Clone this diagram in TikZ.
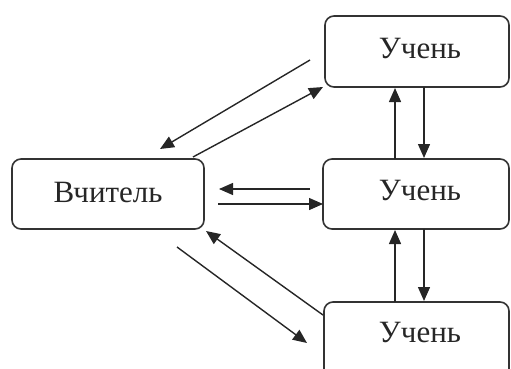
\documentclass[tikz,border=0pt]{standalone}
\usepackage{fontspec}
\setmainfont{Liberation Serif}
\usetikzlibrary{arrows.meta}
\begin{document}
\begin{tikzpicture}[x=1pt,y=-1pt,
  box/.style={draw=black!80,line width=1.6pt,rounded corners=9pt,inner sep=0pt},
  lbl/.style={font=\fontsize{31}{34}\selectfont,text=black!85},
  arr/.style={line width=1.4pt,draw=black!85,-{Triangle[length=14pt,width=12pt]}}]
\useasboundingbox (0,0) rectangle (511,369);
\draw[box] (12,159) rectangle (204,229);
\draw[box] (325,16) rectangle (509,87);
\draw[box] (323,159) rectangle (509,229);
\draw[box] (324,302) rectangle (509,378);
\node[lbl] (t) at (108,192) {Вчитель};
\node[lbl] (s1) at (420,49) {Учень};
\node[lbl] (s2) at (420,191) {Учень};
\node[lbl] (s3) at (420,332) {Учень};
\coordinate (a1s) at (310,60);   \coordinate (a1e) at (160,149);
\coordinate (a2s) at (193,157);  \coordinate (a2e) at (323,87);
\coordinate (a3s) at (310,189);  \coordinate (a3e) at (219,189);
\coordinate (a4s) at (218,204);  \coordinate (a4e) at (323,204);
\coordinate (a5s) at (323,315);  \coordinate (a5e) at (206,231);
\coordinate (a6s) at (177,247);  \coordinate (a6e) at (307,343);
\coordinate (a7s) at (395,159);  \coordinate (a7e) at (395,88);
\coordinate (a8s) at (424,87);   \coordinate (a8e) at (424,158);
\coordinate (a9s) at (395,302);  \coordinate (a9e) at (395,230);
\coordinate (a10s) at (424,229); \coordinate (a10e) at (424,301);
\foreach \i in {1,...,10} \draw[arr] (a\i s) -- (a\i e);
\end{tikzpicture}
\end{document}
